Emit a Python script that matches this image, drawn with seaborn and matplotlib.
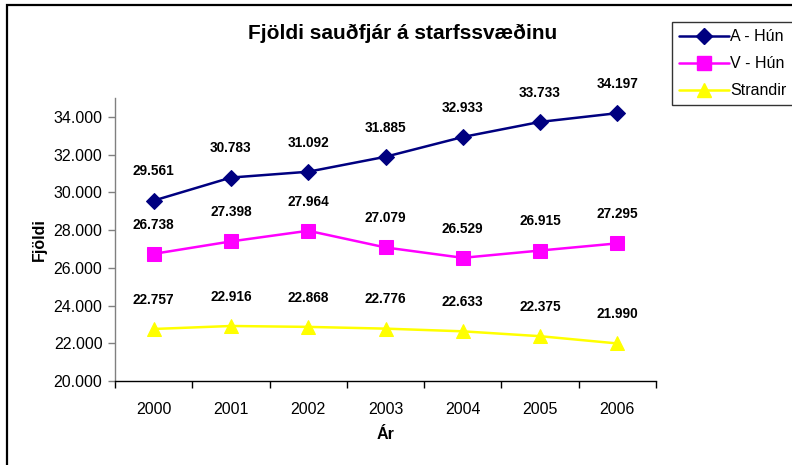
import matplotlib
matplotlib.use("Agg")
import matplotlib.pyplot as plt
from matplotlib.patches import Rectangle
from matplotlib.lines import Line2D
import seaborn as sns
import pandas as pd

years = ["2000", "2001", "2002", "2003", "2004", "2005", "2006"]
a_hun = [29561, 30783, 31092, 31885, 32933, 33733, 34197]
v_hun = [26738, 27398, 27964, 27079, 26529, 26915, 27295]
strandir = [22757, 22916, 22868, 22776, 22633, 22375, 21990]
series_names = ["A - Hún", "V - Hún", "Strandir"]
yticks = [20000, 22000, 24000, 26000, 28000, 30000, 32000, 34000]

sns.set_theme(style="white")
plt.rcParams["font.family"] = ["Liberation Sans", "DejaVu Sans"]
plt.rcParams["text.color"] = "black"
plt.rcParams["axes.labelcolor"] = "black"
plt.rcParams["xtick.color"] = "black"
plt.rcParams["ytick.color"] = "black"

fig = plt.figure(figsize=(7.92, 4.65), dpi=100)
ax = fig.add_axes([115/792, 1-381/465, (656-115)/792, (381-98)/465])

colors = ["#000080", "#FF00FF", "#FFFF00"]
markers = ["D", "s", "^"]
msizes = [8, 9.5, 10]
xs = list(range(len(years)))
handles = []
for vals, name, c, m, ms in zip([a_hun, v_hun, strandir], series_names, colors, markers, msizes):
    df = pd.DataFrame({"x": xs, "y": vals})
    sns.lineplot(data=df, x="x", y="y", ax=ax, color=c, marker=m, markersize=ms,
                 markeredgecolor=c, linewidth=1.8, legend=False)
    for xi, v in zip(xs, vals):
        ax.annotate(f"{v:,}".replace(",", "."), (xi, v), xytext=(0, 21),
                    textcoords="offset points", ha="center", va="center",
                    fontsize=9.8, fontweight="bold", color="black")
    handles.append(Line2D([0], [0], color=c, marker=m, markersize=ms, markeredgecolor=c,
                          linewidth=1.8, label=name))

ax.set_xlim(-0.5, 6.5)
ax.set_ylim(20000, 35000)
ax.set_yticks(yticks)
ax.set_yticklabels([f"{t:,}".replace(",", ".") for t in yticks], fontsize=11.5)
ax.set_xticks(xs)
ax.set_xticklabels(years, fontsize=11.5)
ax.set_xticks([i - 0.5 for i in range(len(years) + 1)], minor=True)
ax.tick_params(axis="x", which="major", length=0, pad=15)
ax.tick_params(axis="x", which="minor", length=5, width=1, color="black", direction="out", bottom=True)
ax.tick_params(axis="y", which="major", length=5, width=1, color="#808080", labelcolor="black",
               direction="out", left=True, pad=4)
for s in ["top", "right"]:
    ax.spines[s].set_visible(False)
ax.spines["left"].set_color("#808080")
ax.spines["bottom"].set_color("black")
ax.spines["left"].set_linewidth(1)
ax.spines["bottom"].set_linewidth(1)
ax.grid(False)

ax.set_xlabel("Ár", fontsize=11.5, fontweight="bold", labelpad=7)
ax.set_ylabel("Fjöldi", fontsize=11.5, fontweight="bold", labelpad=5)

fig.text(403/792, 1-33/465, "Fjöldi sauðfjár á starfssvæðinu", ha="center", va="center",
         fontsize=15, fontweight="bold", color="black")

leg = fig.legend(handles=handles, loc="upper left", bbox_to_anchor=(672/792, 1-22/465),
                 frameon=True, fontsize=11.5, handlelength=3.1, borderpad=0.45,
                 labelspacing=0.75, handletextpad=0.1, borderaxespad=0)
leg.get_frame().set_edgecolor("black")
leg.get_frame().set_linewidth(1)
leg.get_frame().set_boxstyle("square", pad=0)
for t in leg.get_texts():
    t.set_color("black")
# shift legend contents slightly left inside the frame
leg._legend_box.align = "left"
leg.borderpad = 0.45

fig.patches.append(Rectangle((7/792, -0.1), 1.2, 1.1 - 5/465, transform=fig.transFigure,
                             fill=False, edgecolor="black", linewidth=1.6))

fig.savefig("out.png", dpi=100)
